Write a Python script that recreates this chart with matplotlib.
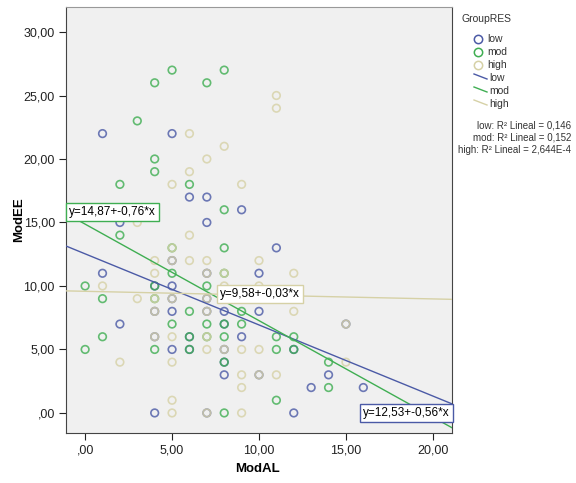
import matplotlib
matplotlib.use("Agg")
from matplotlib import pyplot as plt
from matplotlib.lines import Line2D

plt.rcParams['font.family'] = ['Liberation Sans', 'DejaVu Sans']

# points per group (ModAL, ModEE)
low_x = [1, 5, 6, 7, 9, 7, 2, 11, 5, 1, 7, 10, 4, 5, 5, 7, 4, 5, 7, 8, 10, 2, 8, 15,
         4, 6, 9, 6, 8, 5, 12, 8, 8, 10, 14, 13, 16, 4, 7, 12]
low_y = [22, 22, 17, 17, 16, 15, 15, 13, 12, 11, 11, 11, 10, 10, 9, 9, 8, 8, 8, 8, 8, 7, 7, 7,
         6, 6, 6, 5, 5, 5, 5, 4, 3, 3, 3, 2, 2, 0, 0, 0]
mod_x = [5, 8, 4, 7, 3, 4, 4, 2, 6, 8, 2, 8, 5, 5, 8, 0, 4, 7, 1, 4, 6, 9, 5, 7, 8, 9,
         1, 6, 7, 8, 11, 12, 0, 4, 6, 11, 12, 8, 14, 14, 11, 8]
mod_y = [27, 27, 26, 26, 23, 20, 19, 18, 18, 16, 14, 13, 13, 11, 11, 10, 10, 10, 9, 9, 8, 8, 7, 7, 7, 7,
         6, 6, 6, 6, 6, 6, 5, 5, 5, 5, 5, 4, 4, 2, 1, 0]
high_x = [11, 11, 6, 8, 7, 6, 5, 9, 3, 6, 5, 4, 5, 6, 7, 10, 4, 7, 8, 12, 1, 8, 10, 3, 4, 5, 7,
          4, 7, 12, 15, 4, 5, 7, 7, 8, 9, 10, 2, 5, 15, 9, 10, 11, 9, 5, 5, 7, 9]
high_y = [25, 24, 22, 21, 20, 19, 18, 18, 15, 14, 13, 12, 12, 12, 12, 12, 11, 11, 11, 11, 10, 10, 10, 9, 9, 9, 9,
          8, 8, 8, 7, 6, 6, 6, 5, 5, 5, 5, 4, 4, 4, 3, 3, 3, 2, 1, 0, 0, 0]

groups = ["low", "mod", "high"]
colors = ["#4b5aa6", "#3fae52", "#d6d1a6"]
intercepts = [12.53, 14.87, 9.58]
slopes = [-0.56, -0.76, -0.03]
eq_labels = ["y=12,53+-0,56*x", "y=14,87+-0,76*x", "y=9,58+-0,03*x"]
label_pos = [(15.98, 0.0), (-0.92, 15.83), (7.76, 9.37)]
r2_labels = ["low: R² Lineal = 0,146", "mod: R² Lineal = 0,152",
             "high: R² Lineal = 2,644E-4"]
xticks = [0, 5, 10, 15, 20]
xtick_labels = [",00", "5,00", "10,00", "15,00", "20,00"]
yticks = [0, 5, 10, 15, 20, 25, 30]
ytick_labels = [",00", "5,00", "10,00", "15,00", "20,00", "25,00", "30,00"]

fig = plt.figure(figsize=(5.76, 4.83), dpi=100)
ax = fig.add_axes([66/576, 1-433/483, 386/576, 426/483])
ax.set_facecolor("#f0f0f0")
xlim = (-1.1, 21.1)
ax.set_xlim(xlim)
ax.set_ylim(-1.58, 31.97)

data = [(low_x, low_y), (mod_x, mod_y), (high_x, high_y)]
for (gx, gy), c in zip(data, colors):
    ax.scatter(gx, gy, s=30, facecolors="none", edgecolors=c, linewidths=1.2, alpha=0.8, zorder=2)

for b, m, c in zip(intercepts, slopes, colors):
    ax.plot(xlim, [b + m*xlim[0], b + m*xlim[1]], color=c, lw=1, zorder=3)

for lab, (lx, ly), c in zip(eq_labels, label_pos, colors):
    ax.text(lx, ly, lab, fontsize=8.5, ha="left", va="center", zorder=5,
            bbox=dict(boxstyle="square,pad=0.25", fc="white", ec=c, lw=1))

ax.set_xticks(xticks)
ax.set_xticklabels(xtick_labels)
ax.set_yticks(yticks)
ax.set_yticklabels(ytick_labels)
ax.tick_params(direction="out", length=5, width=0.8, labelsize=9, colors="#222", pad=3)
for s in ax.spines.values():
    s.set_color("#444")
    s.set_linewidth(0.8)
ax.spines["top"].set_color("#999")

ax.set_xlabel("ModAL", fontsize=9.5, fontweight="bold")
ax.set_ylabel("ModEE", fontsize=9.5, fontweight="bold")
ax.xaxis.set_label_coords(0.497, -0.070)
ax.yaxis.set_label_coords(-0.106, 0.5)

# legend drawn by hand in pixel positions
def fx(px):
    return px/576
def fy(py):
    return 1 - py/483

fig.text(fx(461), fy(19), "GroupRES", fontsize=7.5, ha="left", va="center", color="#333")
for i, (g, c) in enumerate(zip(groups, colors)):
    yy = 39 + 13*i
    fig.add_artist(Line2D([fx(478)], [fy(yy)], marker="o", ms=6, mfc="none", mec=c, mew=1.1, ls="none"))
    fig.text(fx(487), fy(yy), g, fontsize=7.5, ha="left", va="center", color="#333")
for i, (g, c) in enumerate(zip(groups, colors)):
    yy = 78 + 13*i
    fig.add_artist(Line2D([fx(474), fx(487)], [fy(yy-4), fy(yy+1)], color=c, lw=1))
    fig.text(fx(489), fy(yy), g, fontsize=7.5, ha="left", va="center", color="#333")
for i, t in enumerate(r2_labels):
    fig.text(fx(571), fy(125 + 12.5*i), t, fontsize=7.0, ha="right", va="center", color="#333")

fig.savefig("out.png", dpi=100)
